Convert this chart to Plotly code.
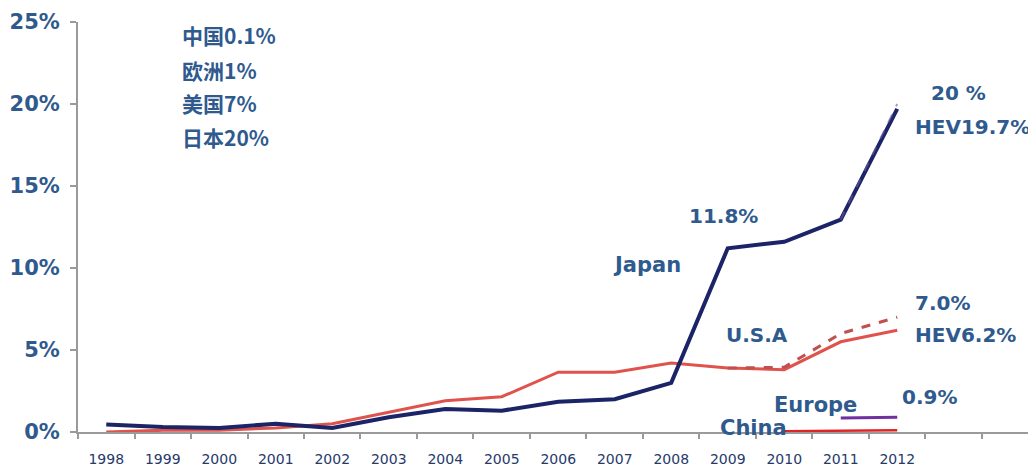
import plotly.graph_objects as go

years = list(range(1998, 2013))
year_labels = [str(y) for y in years]

japan_hev = [0.45, 0.3, 0.25, 0.5, 0.25, 0.9, 1.4, 1.3, 1.85, 2.0, 3.0, 11.2, 11.6, 12.95, 19.7]
japan_total_years = [2011, 2012]
japan_total = [12.95, 20.0]

usa_hev = [0.0, 0.1, 0.1, 0.25, 0.5, 1.2, 1.9, 2.15, 3.65, 3.65, 4.2, 3.9, 3.8, 5.5, 6.2]
usa_total_years = [2009, 2010, 2011, 2012]
usa_total = [3.9, 3.95, 6.0, 7.0]

europe_years = [2011, 2012]
europe = [0.85, 0.9]

china_years = [2010, 2011, 2012]
china = [0.05, 0.08, 0.11]

y_ticks = [0, 5, 10, 15, 20, 25]
y_tick_labels = ["0%", "5%", "10%", "15%", "20%", "25%"]

TXT = "#2F5A8E"
FONT = "DejaVu Sans, Liberation Sans, sans-serif"
CJK = "Noto Sans CJK SC, DejaVu Sans, sans-serif"

fig = go.Figure()
fig.add_trace(go.Scatter(x=years, y=usa_hev, mode="lines",
                         line=dict(color="#E0534C", width=3), cliponaxis=False))
fig.add_trace(go.Scatter(x=usa_total_years, y=usa_total, mode="lines",
                         line=dict(color="#C0504D", width=3, dash="dash"), cliponaxis=False))
fig.add_trace(go.Scatter(x=years, y=japan_hev, mode="lines",
                         line=dict(color="#1B2466", width=4), cliponaxis=False))
fig.add_trace(go.Scatter(x=japan_total_years, y=japan_total, mode="lines",
                         line=dict(color="#6E5A9E", width=2, dash="dash"), cliponaxis=False, opacity=0.6))
fig.add_trace(go.Scatter(x=europe_years, y=europe, mode="lines",
                         line=dict(color="#7030A0", width=3), cliponaxis=False))
fig.add_trace(go.Scatter(x=china_years, y=china, mode="lines",
                         line=dict(color="#E02424", width=2.5), cliponaxis=False))

def ann(text, x, y, size=19, xanchor="center", font=FONT):
    fig.add_annotation(x=x, y=y, text=f"<b>{text}</b>", showarrow=False,
                       xanchor=xanchor, yanchor="middle",
                       font=dict(family=font, size=size, color=TXT))

notes = ["中国0.1%", "欧洲1%", "美国7%", "日本20%"]
note_y = [24.2, 22.1, 20.05, 18.0]
for t, yy in zip(notes, note_y):
    ann(t, 1999.3, yy, size=21, xanchor="left", font=CJK)

ann("20 %", 2012.57, 20.7, size=20, xanchor="left")
ann("HEV19.7%", 2012.28, 18.6, size=20, xanchor="left")
ann("11.8%", 2008.93, 13.2, size=20)
ann("Japan", 2007.57, 10.2, size=21)
ann("7.0%", 2012.28, 7.87, size=20, xanchor="left")
ann("HEV6.2%", 2012.28, 5.9, size=20, xanchor="left")
ann("U.S.A", 2009.52, 5.9, size=20)
ann("Europe", 2010.56, 1.65, size=21)
ann("0.9%", 2012.05, 2.13, size=20, xanchor="left")
ann("China", 2009.45, 0.24, size=21)
ann("0.11%", 2012.23, -0.06, size=20, xanchor="left")

fig.update_layout(
    width=1036, height=475,
    margin=dict(l=70, r=14, t=14, b=51, autoexpand=False),
    paper_bgcolor="white", plot_bgcolor="white",
    showlegend=False,
    xaxis=dict(range=[1997.5, 2014.35], tickmode="array", tickvals=years,
               ticktext=year_labels, ticks="", showgrid=False, zeroline=False,
               showline=True, linecolor="#9A9A9A", linewidth=2,
               automargin=False, ticklabelstandoff=13,
               tickfont=dict(family=FONT, size=14, color="#263A6A"),
               minor=dict(tick0=1997.5, dtick=1, ticks="outside", ticklen=5,
                          tickcolor="#9A9A9A", tickwidth=1.5, showgrid=False)),
    yaxis=dict(range=[0, 25], tickmode="array", tickvals=y_ticks,
               ticktext=[f"<b>{t}</b>" for t in y_tick_labels],
               ticks="outside", ticklen=6, tickcolor="#9A9A9A", tickwidth=1.5,
               automargin=False, ticklabelstandoff=6,
               showgrid=False, zeroline=False, showline=True,
               linecolor="#9A9A9A", linewidth=2,
               tickfont=dict(family=FONT, size=21, color=TXT)),
)

fig.write_html("out.html")
